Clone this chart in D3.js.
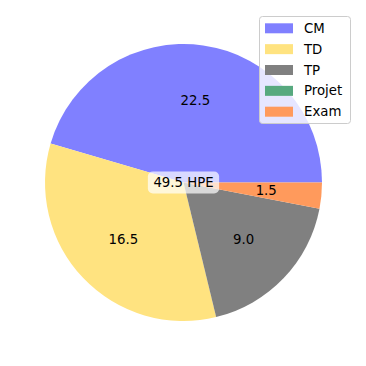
<!DOCTYPE html>
<html>
<head>
<meta charset="utf-8">
<script src="https://cdn.jsdelivr.net/npm/d3@7"></script>
<style>
  body { margin: 0; background: #fff; }
  text { font-family: "DejaVu Sans", sans-serif; }
</style>
</head>
<body>
<div id="chart"></div>
<script>
// Data
const categories = ["CM", "TD", "TP", "Projet", "Exam"];
const hours = [22.5, 16.5, 9.0, 0, 1.5];
const colors = ["#8080ff", "#ffe380", "#808080", "#57a97f", "#ff9a5c"];
const centerLabel = "49.5 HPE";

const width = 366, height = 366;
const cx = 183.5, cy = 182.5, radius = 138.5;

const svg = d3.select("#chart")
  .append("svg")
  .attr("width", width)
  .attr("height", height);

const slices = categories.map((c, i) => ({ name: c, value: hours[i], color: colors[i] }));

// matplotlib style: start at 3 o'clock, counterclockwise
const pie = d3.pie()
  .value(d => d.value)
  .sort(null)
  .startAngle(Math.PI / 2)
  .endAngle(Math.PI / 2 - 2 * Math.PI);

const arc = d3.arc().innerRadius(0).outerRadius(radius);
const labelArc = d3.arc().innerRadius(radius * 0.6).outerRadius(radius * 0.6);

const g = svg.append("g").attr("transform", `translate(${cx},${cy})`);

const arcs = pie(slices);

g.selectAll("path.slice")
  .data(arcs)
  .join("path")
  .attr("class", "slice")
  .attr("d", arc)
  .attr("fill", d => d.data.color);

g.selectAll("text.val")
  .data(arcs.filter(d => d.data.value > 0))
  .join("text")
  .attr("class", "val")
  .attr("x", d => labelArc.centroid(d)[0])
  .attr("y", d => labelArc.centroid(d)[1])
  .attr("text-anchor", "middle")
  .attr("dominant-baseline", "central")
  .attr("font-size", "13.3px")
  .attr("fill", "#000")
  .text(d => d.data.value.toFixed(1));

// Center label with rounded box
const cl = g.append("g");
const clText = cl.append("text")
  .attr("text-anchor", "middle")
  .attr("dominant-baseline", "central")
  .attr("font-size", "13.3px")
  .text(centerLabel);
const bb = clText.node().getBBox();
cl.insert("rect", "text")
  .attr("x", bb.x - 5.5)
  .attr("y", bb.y - 3.5)
  .attr("width", bb.width + 11)
  .attr("height", bb.height + 7)
  .attr("rx", 5)
  .attr("fill", "#fff")
  .attr("fill-opacity", 0.7);

// Legend
const legend = svg.append("g").attr("transform", "translate(259,16)");
legend.append("rect")
  .attr("x", 0.5).attr("y", 0.5)
  .attr("width", 91).attr("height", 107)
  .attr("rx", 3)
  .attr("fill", "#fff")
  .attr("fill-opacity", 0.8)
  .attr("stroke", "#cccccc");

const items = legend.selectAll("g.item")
  .data(slices)
  .join("g")
  .attr("class", "item")
  .attr("transform", (d, i) => `translate(0,${12.3 + i * 20.85})`);

items.append("rect")
  .attr("x", 6).attr("y", -5)
  .attr("width", 28).attr("height", 10)
  .attr("fill", d => d.color);

items.append("text")
  .attr("x", 45)
  .attr("dominant-baseline", "central")
  .attr("font-size", "13.3px")
  .text(d => d.name);
</script>
</body>
</html>
